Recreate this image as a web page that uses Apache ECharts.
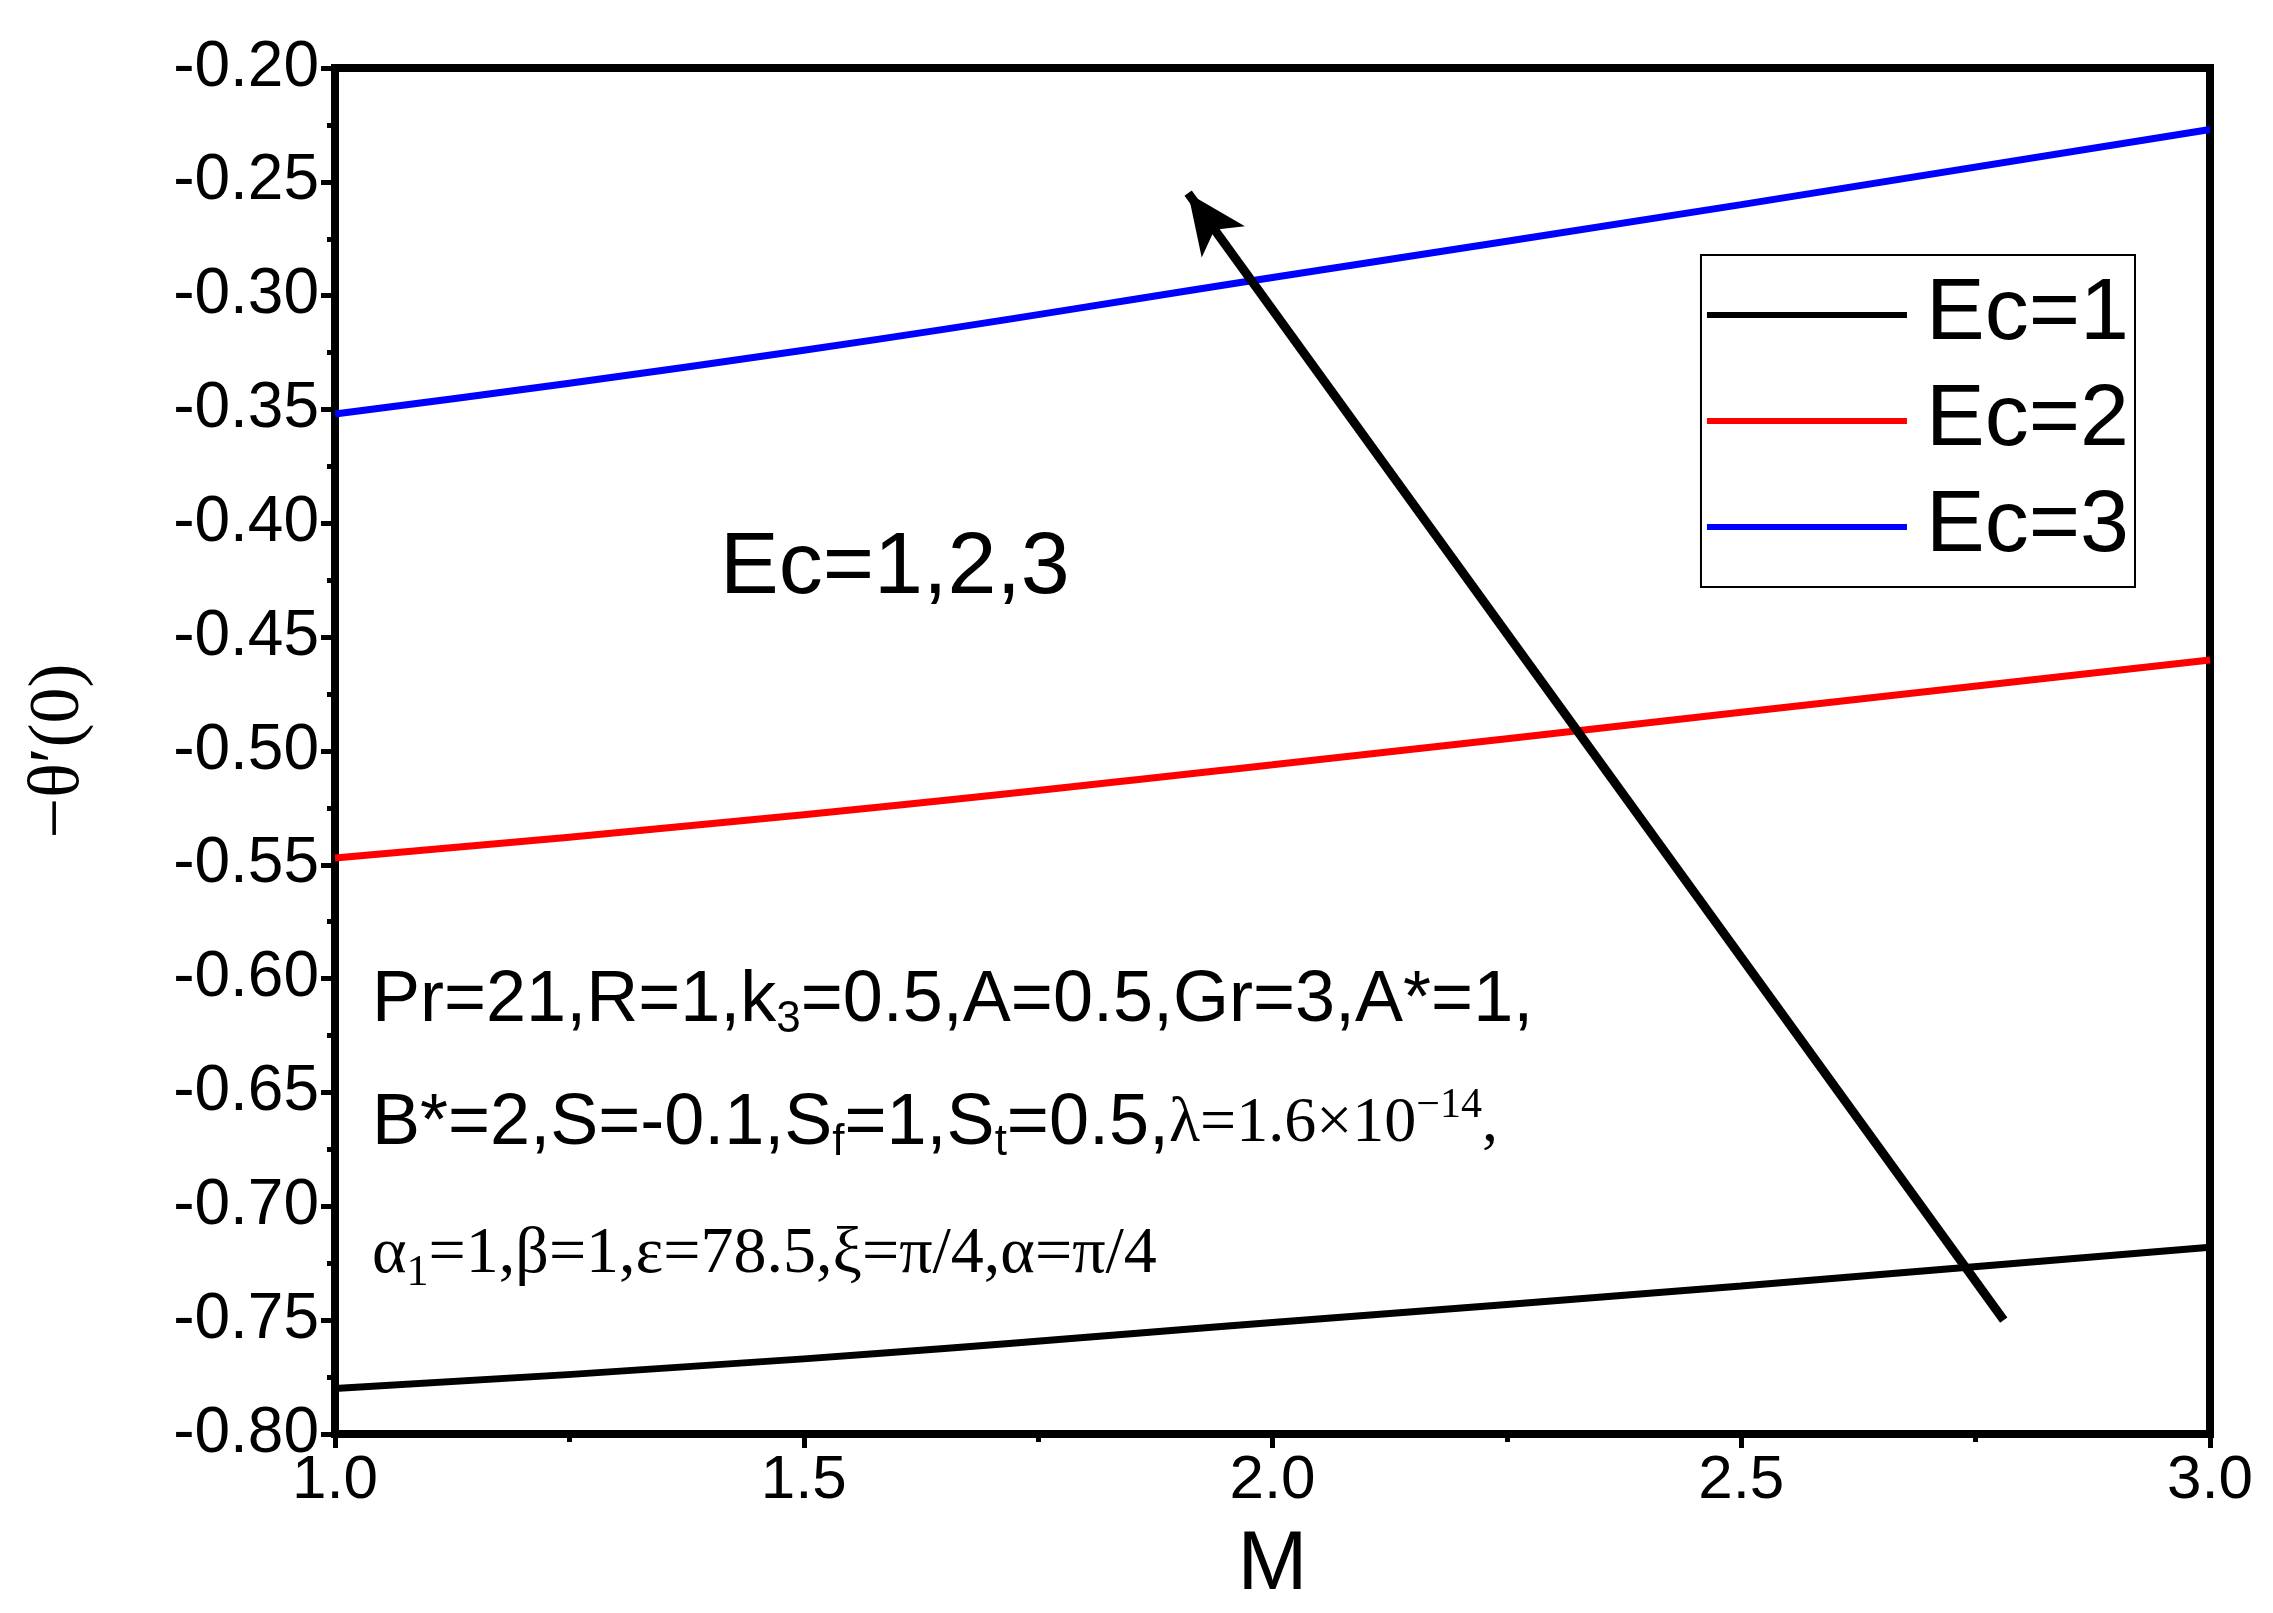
<!DOCTYPE html>
<html><head><meta charset="utf-8">
<script src="https://cdn.jsdelivr.net/npm/echarts@6/dist/echarts.min.js"></script>
<style>html,body{margin:0;background:#fff}#c{width:2273px;height:1613px}</style>
</head><body><div id="c"></div>
<script>
var mValues = [1.0, 1.5, 2.0, 2.5, 3.0];
var ec1 = [-0.780, -0.767, -0.751, -0.735, -0.718];
var ec2 = [-0.547, -0.528, -0.506, -0.483, -0.460];
var ec3 = [-0.352, -0.324, -0.292, -0.260, -0.227];
var arrowFrom = [2.78, -0.750];
var arrowTo = [1.91, -0.255];

function pairs(ys) { return mValues.map(function (x, i) { return [x, ys[i]]; }); }

var chart = echarts.init(document.getElementById('c'));
var sans = 'Liberation Sans, Arial, sans-serif';
var serif = 'Liberation Serif, Times New Roman, serif';
var richBase = {
  sub: { fontFamily: sans, fontSize: 44, padding: [38, 0, 0, 0] },
  serif: { fontFamily: serif, fontSize: 64 },
  sup: { fontFamily: serif, fontSize: 42, padding: [0, 0, 36, 0] },
  ssub: { fontFamily: serif, fontSize: 44, padding: [36, 0, 0, 0] }
};
chart.setOption({
  animation: false,
  backgroundColor: '#fff',
  grid: { left: 335, right: 63, top: 68, bottom: 178, show: true, borderColor: '#000', borderWidth: 8 },
  xAxis: {
    type: 'value', min: 1, max: 3, interval: 0.5,
    name: 'M', nameLocation: 'middle', nameGap: 90,
    nameTextStyle: { fontFamily: sans, fontSize: 84, color: '#000' },
    axisLine: { lineStyle: { color: '#000', width: 8 } },
    axisTick: { inside: false, length: 14, lineStyle: { width: 5, color: '#000' } },
    minorTick: { show: true, splitNumber: 2, length: 8, lineStyle: { width: 5, color: '#000' } },
    axisLabel: { fontFamily: sans, fontSize: 62, color: '#000', margin: 16, formatter: function (v) { return v.toFixed(1); } },
    splitLine: { show: false }
  },
  yAxis: {
    type: 'value', min: -0.8, max: -0.2, interval: 0.05,
    name: '−θ′(0)', nameLocation: 'middle', nameGap: 240, nameRotate: 90,
    nameTextStyle: { fontFamily: serif, fontSize: 72, color: '#000' },
    axisLine: { lineStyle: { color: '#000', width: 8 } },
    axisTick: { inside: false, length: 14, lineStyle: { width: 5, color: '#000' } },
    minorTick: { show: true, splitNumber: 2, length: 8, lineStyle: { width: 5, color: '#000' } },
    axisLabel: { fontFamily: sans, fontSize: 64, color: '#000', margin: 16, formatter: function (v) { return v.toFixed(2); } },
    splitLine: { show: false }
  },
  legend: {
    right: 138, top: 255, orient: 'vertical', itemWidth: 200, itemHeight: 6, itemGap: 18,
    padding: [16, 6, 16, 6], borderColor: '#000', borderWidth: 2,
    textStyle: { fontFamily: sans, fontSize: 88, color: '#000', padding: [0, 0, 0, 14] },
    icon: 'rect'
  },
  series: [
    { name: 'Ec=1', type: 'line', smooth: true, symbol: 'none', data: pairs(ec1), lineStyle: { color: '#000', width: 7 }, itemStyle: { color: '#000' } },
    { name: 'Ec=2', type: 'line', smooth: true, symbol: 'none', data: pairs(ec2), lineStyle: { color: '#ff0000', width: 7 }, itemStyle: { color: '#ff0000' } },
    { name: 'Ec=3', type: 'line', smooth: true, symbol: 'none', data: pairs(ec3), lineStyle: { color: '#0000ff', width: 7 }, itemStyle: { color: '#0000ff' },
      markLine: { silent: true, symbol: ['none', 'arrow'], symbolSize: [40, 60],
        lineStyle: { color: '#000', width: 9, type: 'solid' }, label: { show: false },
        data: [[{ coord: arrowFrom }, { coord: arrowTo }]] } }
  ],
  graphic: [
    { type: 'text', left: 720, top: 525, style: { text: 'Ec=1,2,3', font: '88px ' + sans, fill: '#000' } },
    { type: 'text', left: 372, top: 965, style: { text: 'Pr=21,R=1,k{sub|3}=0.5,A=0.5,Gr=3,A*=1,', font: '72px ' + sans, fill: '#000', rich: richBase } },
    { type: 'text', left: 372, top: 1085, style: { text: 'B*=2,S=-0.1,S{sub|f}=1,S{sub|t}=0.5,{serif|λ=1.6×10}{sup|−14}{serif|,}', font: '72px ' + sans, fill: '#000', rich: richBase } },
    { type: 'text', left: 372, top: 1222, style: { text: 'α{ssub|1}=1,β=1,ε=78.5,ξ=π/4,α=π/4', font: '66px ' + serif, fill: '#000', rich: richBase } }
  ]
});
</script></body></html>
